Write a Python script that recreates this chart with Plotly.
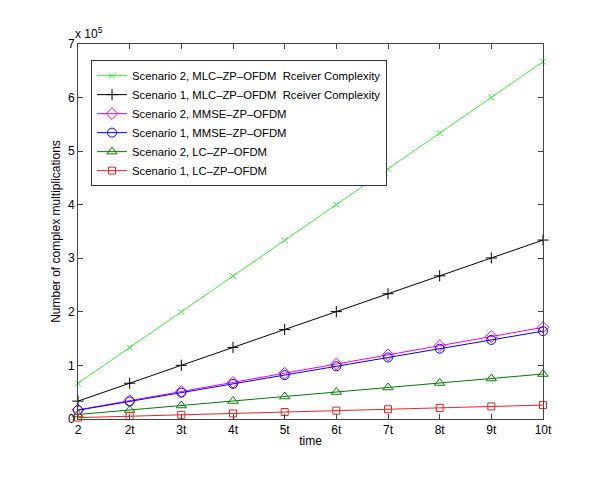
import plotly.graph_objects as go

categories = ["2", "2t", "3t", "4t", "5t", "6t", "7t", "8t", "9t", "10t"]

s2_mlc = [66700, 133400, 200100, 266800, 333500, 400200, 466900, 533600, 600300, 667000]
s1_mlc = [33400, 66800, 100200, 133600, 167000, 200400, 233800, 267200, 300600, 334000]
s2_mmse = [17100, 34200, 51300, 68400, 85500, 102600, 119700, 136800, 153900, 171000]
s1_mmse = [16400, 32800, 49200, 65600, 82000, 98400, 114800, 131200, 147600, 164000]
s2_lc = [8400, 16800, 25200, 33600, 42000, 50400, 58800, 67200, 75600, 84000]
s1_lc = [2600, 5200, 7800, 10400, 13000, 15600, 18200, 20800, 23400, 26000]

y_tickvals = [0, 100000, 200000, 300000, 400000, 500000, 600000, 700000]
y_ticktext = ["0", "1", "2", "3", "4", "5", "6", "7"]

series = [
    ("Scenario 2, MLC\u2013ZP\u2013OFDM  Rceiver Complexity", s2_mlc, "#33ee33", "x-thin", 6),
    ("Scenario 1, MLC\u2013ZP\u2013OFDM  Rceiver Complexity", s1_mlc, "#000000", "cross-thin", 8),
    ("Scenario 2, MMSE\u2013ZP\u2013OFDM", s2_mmse, "#ee00ee", "diamond-open", 9),
    ("Scenario 1, MMSE\u2013ZP\u2013OFDM", s1_mmse, "#0000ff", "circle-open", 9),
    ("Scenario 2, LC\u2013ZP\u2013OFDM", s2_lc, "#008000", "triangle-up-open", 9),
    ("Scenario 1, LC\u2013ZP\u2013OFDM", s1_lc, "#ee2222", "square-open", 7),
]

fig = go.Figure()
for name, vals, color, sym, size in series:
    fig.add_trace(go.Scatter(
        x=categories, y=vals, name=name, mode="lines+markers",
        line=dict(color=color, width=1),
        marker=dict(symbol=sym, size=size, color=color, line=dict(color=color, width=1)),
        cliponaxis=False,
    ))

font = "Liberation Sans, Arial, Helvetica, sans-serif"
fig.update_layout(
    width=600, height=499,
    margin=dict(l=70, r=65, t=36, b=88),
    paper_bgcolor="white", plot_bgcolor="white",
    font=dict(family=font, size=12, color="#000"),
    showlegend=True,
    legend=dict(
        x=0.028, y=0.957, xanchor="left", yanchor="top",
        bgcolor="white", bordercolor="#333", borderwidth=1,
        font=dict(family=font, size=11.3, color="#000"),
        tracegroupgap=0, itemwidth=30,
    ),
    xaxis=dict(
        type="category", categoryorder="array", categoryarray=categories,
        range=[0, 9], showgrid=False, zeroline=False,
        showline=True, linecolor="#444", linewidth=1, mirror="ticks",
        ticks="inside", ticklen=5, tickcolor="#444",
        tickfont=dict(family=font, size=12),
        title=dict(text="time", font=dict(family=font, size=12), standoff=0),
    ),
    yaxis=dict(
        range=[0, 700000], showgrid=False, zeroline=False,
        tickvals=y_tickvals, ticktext=y_ticktext,
        showline=True, linecolor="#444", linewidth=1, mirror="ticks",
        ticks="inside", ticklen=5, tickcolor="#444",
        tickfont=dict(family=font, size=12),
        title=dict(text="Number of complex multiplications", font=dict(family=font, size=12), standoff=4),
    ),
    annotations=[dict(
        text="x 10<sup>5</sup>", xref="paper", yref="paper", x=0.0, y=1.0,
        xanchor="left", yanchor="bottom", showarrow=False, xshift=-4, yshift=2,
        borderpad=0, font=dict(family=font, size=12),
    )],
)

fig.write_html("out.html")
